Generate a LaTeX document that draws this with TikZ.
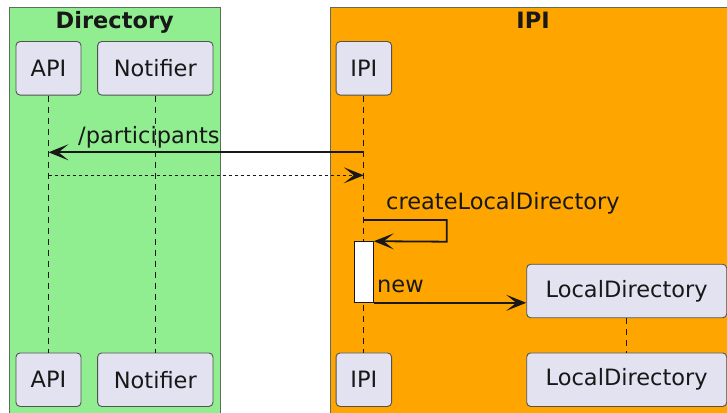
\documentclass[tikz,border=0pt]{standalone}
\usepackage{fontspec}
\setmainfont{DejaVu Sans}
\usetikzlibrary{arrows.meta}
\definecolor{grpgreen}{HTML}{90EE90}
\definecolor{grporange}{HTML}{FFA500}
\definecolor{partfill}{HTML}{E2E2F0}
\definecolor{ink}{HTML}{181818}
\definecolor{grpborder}{HTML}{5A6E5A}
\begin{document}
\begin{tikzpicture}[x=1pt,y=-1pt,
  font=\fontsize{22.5}{27}\selectfont,
  part/.style={draw=ink!75, line width=0.9pt, fill=partfill, rounded corners=4pt, inner sep=0pt, minimum height=53.5pt, text=ink},
  grpbox/.style={draw=grpborder, line width=1pt},
  grptitle/.style={font=\fontsize{22.5}{27}\selectfont\bfseries, anchor=base, text=ink, inner sep=0pt},
  life/.style={draw=ink, line width=1.2pt, dash pattern=on 6pt off 5pt},
  msg/.style={draw=ink, line width=1.8pt, -{Stealth[length=20pt,width=16pt,inset=10pt]}},
  ret/.style={msg, line width=1.4pt, dash pattern=on 3pt off 3pt},
  lbl/.style={anchor=base west, inner sep=0pt, text=ink}]
\useasboundingbox (0,0) rectangle (727,412);
% group boxes
\draw[grpbox, fill=grpgreen] (9,7.5) rectangle (220.5,414);
\draw[grpbox, fill=grporange] (330,7.5) rectangle (736,414);
\node[grptitle] (tdir) at (114.75,28.3) {Directory};
\node[grptitle] (tipi) at (533,28.3) {IPI};
% participants
\node[part, minimum width=65pt] (apiT) at (48.5,68.3) {API};
\node[part, minimum width=115.3pt] (notT) at (155.3,68.3) {Notifier};
\node[part, minimum width=55.5pt] (ipiT) at (363.8,68.3) {IPI};
\node[part, minimum width=65pt] (apiB) at (48.5,379.7) {API};
\node[part, minimum width=115.3pt] (notB) at (155.3,379.7) {Notifier};
\node[part, minimum width=55.5pt] (ipiB) at (363.8,379.7) {IPI};
\node[part, minimum width=200pt] (locB) at (626.7,379.7) {LocalDirectory};
% lifelines
\draw[life] (apiT.south) -- (apiB.north);
\draw[life] (notT.south) -- (notB.north);
\draw[life] (ipiT.south) -- (ipiB.north);
% created participant
\node[part, minimum width=200pt] (locT) at (626.7,291) {LocalDirectory};
\draw[life] (locT.south) -- (locB.north);
% activation
\node[draw=ink, line width=1pt, fill=white, inner sep=0pt, minimum width=19pt, minimum height=60.6pt] (act) at (363.8,272) {};
% message coordinates
\coordinate (m1s) at (ipiT.south |- 0,152.3);
\coordinate (m1e) at (apiT.south |- 0,152.3);
\coordinate (m2s) at (apiT.south |- 0,175.3);
\coordinate (m2e) at (ipiT.south |- 0,175.3);
\coordinate (m3s) at (ipiT.south |- 0,220);
\coordinate (m3e) at (act.north east);
\coordinate (m4s) at (act.south east);
\draw[msg] (m1s) -- (m1e);
\draw[ret] (m2s) -- (m2e);
\draw[msg] (m3s) -- (446.7,220) -- (446.7,241.7) -- (m3e);
\draw[msg] (m4s) -- (locT.west |- m4s);
% labels
\node[lbl] (l1) at (78,143.3) {/participants};
\node[lbl] (l3) at (386,209.3) {createLocalDirectory};
\node[lbl] (l4) at (377,292.7) {new};
\end{tikzpicture}
\end{document}
